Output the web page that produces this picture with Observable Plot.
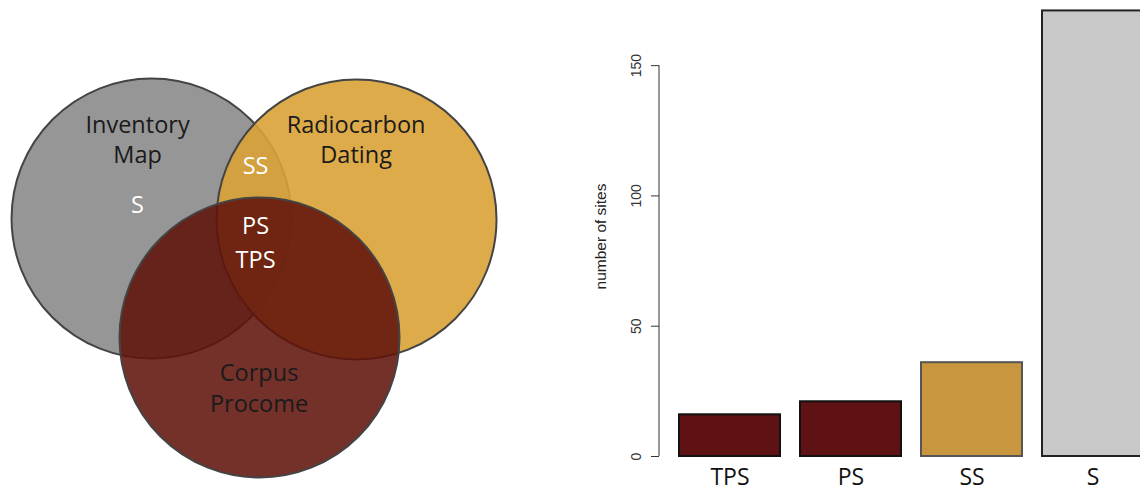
<!DOCTYPE html>
<html><head><meta charset="utf-8">
<script src="https://cdn.jsdelivr.net/npm/d3@7"></script>
<script src="https://cdn.jsdelivr.net/npm/@observablehq/plot@0.6"></script>
<style>
html,body{margin:0;padding:0;background:#fff;width:1140px;height:491px;overflow:hidden}
#wrap{display:flex;width:1140px;height:491px;overflow:hidden}
#venn{width:560px;height:491px;flex:none}
#bars{width:580px;height:491px;overflow:hidden;flex:none}
#wrap svg{overflow:hidden;display:block}
</style></head><body><div id="wrap"><div id="venn"></div><div id="bars"></div></div>
<script>
// ---- Venn diagram data (unit = circle radius) ----
const vennSets   = ["Inventory Map", "Radiocarbon Dating", "Corpus Procome"];
const vennCx     = [0, 1.464, 0.771];
const vennCy     = [0, 0.007, 0.85];
const vennR      = [1, 1, 1];
const vennFill   = ["#969696", "#daa237", "#5f120a"];
const vennAlpha  = [1, 0.9, 0.87];

const vennLabelText  = ["Inventory", "Map", "Radiocarbon", "Dating", "SS", "S", "PS", "TPS", "Corpus", "Procome"];
const vennLabelX     = [-0.1, -0.1, 1.461, 1.461, 0.743, -0.1, 0.743, 0.743, 0.768, 0.768];
const vennLabelY     = [-0.667, -0.453, -0.667, -0.453, -0.374, -0.096, 0.054, 0.297, 1.104, 1.326];
const vennLabelColor = ["#1a1a1a", "#1a1a1a", "#1a1a1a", "#1a1a1a", "#ffffff", "#ffffff", "#ffffff", "#ffffff", "#1a1a1a", "#1a1a1a"];

// ---- Bar chart data ----
const barCats   = ["TPS", "PS", "SS", "S"];
const barValues = [16, 21, 36, 171];
const barFill   = ["#5e1214", "#5e1214", "#c8963e", "#c8c8c8"];
const barStroke = ["#111111", "#111111", "#555555", "#222222"];
const yTicks    = [0, 50, 100, 150];
const yLabel    = "number of sites";

const FONT = "'Open Sans', 'Noto Sans', sans-serif";
const AXFONT = "'Liberation Sans', Arial, sans-serif";

const circleMarks = vennSets.map((s, i) => Plot.dot([i], {
  x: d => vennCx[d], y: d => vennCy[d], r: d => vennR[d],
  fill: vennFill[i], fillOpacity: vennAlpha[i], stroke: "#444", strokeWidth: 2
}));

const venn = Plot.plot({
  width: 560, height: 491, margin: 0,
  x: {domain: [-1.079, 2.921], axis: null},
  y: {domain: [-1.557, 1.95], reverse: true, axis: null},
  r: {type: "linear", domain: [0, 1], range: [0, 140]},
  color: {type: "identity"},
  marks: [
    ...circleMarks,
    Plot.text(vennLabelText.map((t, i) => i), {
      x: i => vennLabelX[i], y: i => vennLabelY[i], text: i => vennLabelText[i],
      fill: i => vennLabelColor[i], fontSize: 23.5, fontFamily: FONT
    })
  ]
});
document.getElementById("venn").append(venn);

const barData = barCats.map((c, i) => ({cat: c, value: barValues[i], fill: barFill[i], stroke: barStroke[i]}));

const axisLine = (index, scales, values, dimensions) => {
  const ns = "http://www.w3.org/2000/svg";
  const l = document.createElementNS(ns, "line");
  l.setAttribute("x1", dimensions.marginLeft);
  l.setAttribute("x2", dimensions.marginLeft);
  l.setAttribute("y1", scales.y(yTicks[0]));
  l.setAttribute("y2", scales.y(yTicks[yTicks.length - 1]));
  l.setAttribute("stroke", "#333");
  l.setAttribute("stroke-width", 1);
  return l;
};

const bars = Plot.plot({
  width: 580, height: 491, marginLeft: 99, marginTop: 0, marginBottom: 35, marginRight: 0,
  x: {domain: barCats, range: [99, 602.7], paddingInner: 0.2 / 1.2, paddingOuter: 0.156},
  y: {domain: [0, 175]},
  color: {type: "identity"},
  style: {fontFamily: AXFONT, fontSize: "14px"},
  marks: [
    Plot.barY(barData, {x: "cat", y: "value", fill: "fill", stroke: "stroke", strokeWidth: 2}),
    axisLine,
    Plot.axisY(yTicks, {tickSize: 8, tickPadding: 11, tickRotate: -90, fontSize: 14, color: "#333",
      fontFamily: AXFONT, label: null}),
    Plot.text([yLabel], {frameAnchor: "left", textAnchor: "middle", rotate: -90, dx: -58, dy: 8,
      fontSize: 15.5, fontFamily: AXFONT, fill: "#222"}),
    Plot.axisX({tickSize: 0, tickPadding: 12, fontSize: 23, fontFamily: FONT, color: "#111", label: null})
  ]
});
document.getElementById("bars").append(bars);
</script></body></html>
